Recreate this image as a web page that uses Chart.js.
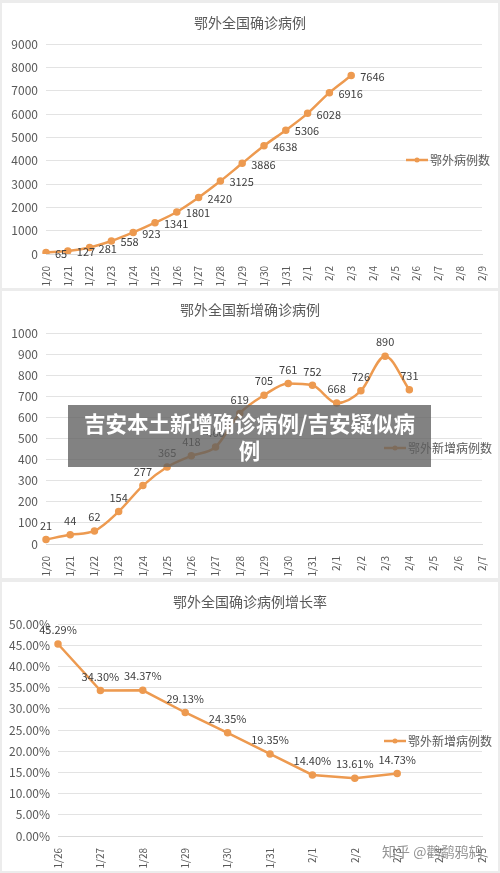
<!DOCTYPE html>
<html><head><meta charset="utf-8">
<script src="https://cdn.jsdelivr.net/npm/chart.js@4"></script>
<style>
body{margin:0;width:500px;height:873px;background:#ececec;position:relative;overflow:hidden;font-family:"Noto Sans CJK SC",sans-serif}
.p{position:absolute;left:2px;width:496px;background:#fff}
#banner{position:absolute;left:68px;top:405px;width:363px;height:62px;background:rgba(95,95,95,0.78);color:#fff;font-weight:bold;font-size:21.5px;line-height:27px;text-align:center;padding-top:4px;box-sizing:border-box;padding-left:14px;padding-right:14px}
#wm{position:absolute;left:382px;top:841px;font-size:14px;color:rgba(120,120,120,0.8)}
</style></head><body>
<div class="p" style="top:3px;height:285px"><canvas id="c1"></canvas></div>
<div class="p" style="top:291px;height:287px"><canvas id="c2"></canvas></div>
<div class="p" style="top:582px;height:289px"><canvas id="c3"></canvas></div>
<div id="banner">吉安本土新增确诊病例/吉安疑似病例</div>
<div id="wm">知乎 @鹳鹬鸦鸫</div>
<script>
const dates1=["1/20","1/21","1/22","1/23","1/24","1/25","1/26","1/27","1/28","1/29","1/30","1/31","2/1","2/2","2/3","2/4","2/5","2/6","2/7","2/8","2/9"];
const total=[65,127,281,558,923,1341,1801,2420,3125,3886,4638,5306,6028,6916,7646];
const dates2=["1/20","1/21","1/22","1/23","1/24","1/25","1/26","1/27","1/28","1/29","1/30","1/31","2/1","2/2","2/3","2/4","2/5","2/6","2/7"];
const daily=[21,44,62,154,277,365,418,460,619,705,761,752,668,726,890,731];
const dates3=["1/26","1/27","1/28","1/29","1/30","1/31","2/1","2/2","2/3","2/4","2/5"];
const rate=[45.29,34.30,34.37,29.13,24.35,19.35,14.40,13.61,14.73];
const yTicks3=[0,5,10,15,20,25,30,35,40,45,50];

Chart.defaults.font.family='"Noto Sans CJK SC","DejaVu Sans",sans-serif';
Chart.defaults.color='#595959';
Chart.defaults.animation=false;
const orange='#ED9A50';

function make(id,labels,data,opt){
  const lblPlugin={id:'lbl'+id,afterDatasetsDraw(ch){
    const c=ch.ctx,m=ch.getDatasetMeta(0);c.save();
    c.font='11px "Noto Sans CJK SC",sans-serif';c.fillStyle='#404040';
    c.textAlign=opt.lAlign;c.textBaseline='middle';
    m.data.forEach((p,i)=>c.fillText(opt.fmt(data[i]),p.x+opt.dx,p.y+opt.dy));
    c.font='14px "Noto Sans CJK SC",sans-serif';c.fillStyle='#595959';c.textAlign='center';
    c.fillText(opt.title,248,opt.titleY);
    c.strokeStyle=orange;c.lineWidth=2.5;c.beginPath();c.moveTo(opt.lgX,opt.lgY);c.lineTo(opt.lgX+22,opt.lgY);c.stroke();
    c.fillStyle=orange;c.beginPath();c.arc(opt.lgX+11,opt.lgY,2.5,0,7);c.fill();
    c.font='12px "Noto Sans CJK SC",sans-serif';c.fillStyle='#595959';c.textAlign='left';
    c.fillText(opt.lg,opt.lgX+24,opt.lgY);
    c.restore();}};
  return new Chart(document.getElementById(id),{type:'line',
    data:{labels:labels,datasets:[{data:data,borderColor:orange,backgroundColor:orange,borderWidth:2.5,pointRadius:2.5,tension:opt.tension,cubicInterpolationMode:opt.tension?'monotone':'default'}]},
    options:{responsive:true,maintainAspectRatio:false,devicePixelRatio:1,
      layout:{padding:{top:opt.top,right:11,left:0,bottom:0}},
      plugins:{legend:{display:false},tooltip:{enabled:false}},
      scales:{
        x:{offset:false,grid:{display:false},border:{color:'#d9d9d9'},
          ticks:{maxRotation:90,minRotation:90,autoSkip:false,font:{size:10},padding:4},
          afterFit(s){s.height=opt.xh;}},
        y:{min:opt.min,max:opt.max,grid:{color:'#e3e3e3',drawTicks:false},border:{display:false},
          ticks:{stepSize:opt.step,font:{size:12},padding:8,callback:opt.yfmt},
          afterBuildTicks:opt.tickVals?(s)=>{s.ticks=opt.tickVals.map(v=>({value:v}));}:undefined,
          afterFit(s){s.width=opt.yw;}}}},
    plugins:[lblPlugin]});
}
make('c1',dates1,total,{title:'鄂外全国确诊病例',titleY:20,top:41,xh:34,yw:44,min:0,max:9000,step:1000,
  yfmt:v=>v,fmt:v=>v,lAlign:'left',dx:9,dy:1,tension:0.3,lg:'鄂外病例数',lgX:404,lgY:157});
make('c2',dates2,daily,{title:'鄂外全国新增确诊病例',titleY:19,top:42,xh:34,yw:44,min:0,max:1000,step:100,
  yfmt:v=>v,fmt:v=>v,lAlign:'center',dx:0,dy:-14,tension:0.4,lg:'鄂外新增病例数',lgX:382,lgY:157});
make('c3',dates3,rate,{title:'鄂外全国确诊病例增长率',titleY:20,top:42,xh:35,yw:56,min:0,max:50,step:5,tickVals:yTicks3,
  yfmt:v=>v.toFixed(2)+'%',fmt:v=>v.toFixed(2)+'%',lAlign:'center',dx:0,dy:-14,tension:0,lg:'鄂外新增病例数',lgX:382,lgY:159});
</script></body></html>
